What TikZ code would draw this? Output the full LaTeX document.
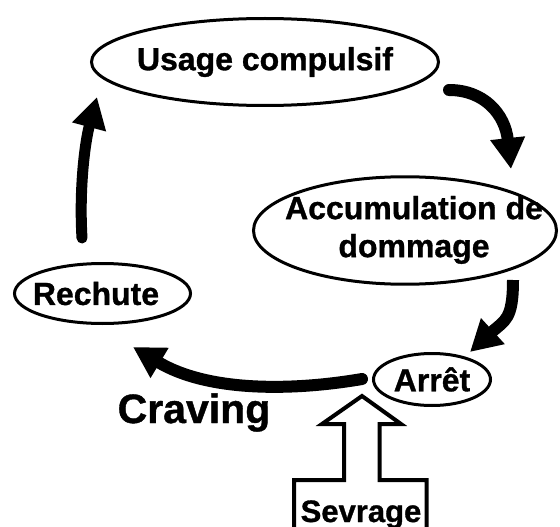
\documentclass[tikz,border=0pt]{standalone}
\usepackage{fontspec}
\setmainfont{Liberation Sans}[BoldFeatures={FakeBold=1}]
\usetikzlibrary{shapes.geometric,arrows.meta}
\begin{document}
\begin{tikzpicture}[x=1pt,y=-1pt,
  ell/.style={ellipse, draw=black, line width=3pt, inner sep=0pt,
    font=\bfseries\fontsize{32pt}{38pt}\selectfont},
  flow/.style={line width=12pt, -{Triangle[length=31pt,width=33pt]}},
  hollow/.style={line width=4pt, line join=miter, miter limit=10},
  bigtxt/.style={font=\bfseries\fontsize{41pt}{49pt}\selectfont, inner sep=0pt, anchor=base},
  boxtxt/.style={font=\bfseries\fontsize{31pt}{37pt}\selectfont, inner sep=0pt, anchor=base}
]
\useasboundingbox (0,0) rectangle (560,527);
\clip (0,0) rectangle (560,527);

% nodes
\node[ell, minimum width=347pt, minimum height=87pt] (usage) at (265,62)
  {\makebox[0pt]{Usage compulsif}};
\node[ell, minimum width=303pt, minimum height=96pt] (accum) at (405,230.5)
  {\makebox[0pt]{\hspace{18pt}\begin{tabular}{@{}c@{}}Accumulation de\\dommage\end{tabular}}};
\node[ell, minimum width=176pt, minimum height=60pt] (rechute) at (102.5,293.5)
  {\makebox[0pt]{\hspace{-13pt}Rechute}};
\node[ell, minimum width=117pt, minimum height=52pt] (arret) at (432,379.5)
  {\makebox[0pt]{Arrêt}};
\node[bigtxt] (craving) at (194,423) {Craving};
\node[boxtxt] (sevrage) at (361,522) {Sevrage};

% cycle arrows
\draw[flow, line cap=round] ([shift={(184,28)}]usage.center)
  .. controls +(35,0) and +(-6,-55) .. ([shift={(106,-61.5)}]accum.center);
\draw[flow] ([shift={(108,49.5)}]accum.center)
  .. controls +(0,40) and +(35,-32) .. ([shift={(38,-27.5)}]arret.center);
\draw[flow, line cap=round] ([shift={(-70,-0.5)}]arret.center)
  .. controls +(-70,12) and +(75,45) .. ([shift={(30.5,53.5)}]rechute.center);
\draw[flow, line width=11pt, line cap=round] ([shift={(-20.5,-55.5)}]rechute.center)
  .. controls +(-3,-50) and +(-12,45) .. ([shift={(-168,35)}]usage.center);

% hollow arrow with box
\draw[hollow] (294,545) -- (294,480) -- (344,480) -- (344,424) -- (322,424)
  -- (362,396) -- (401,424) -- (379.5,424) -- (379.5,480) -- (426.5,480) -- (426.5,545);
\end{tikzpicture}
\end{document}
